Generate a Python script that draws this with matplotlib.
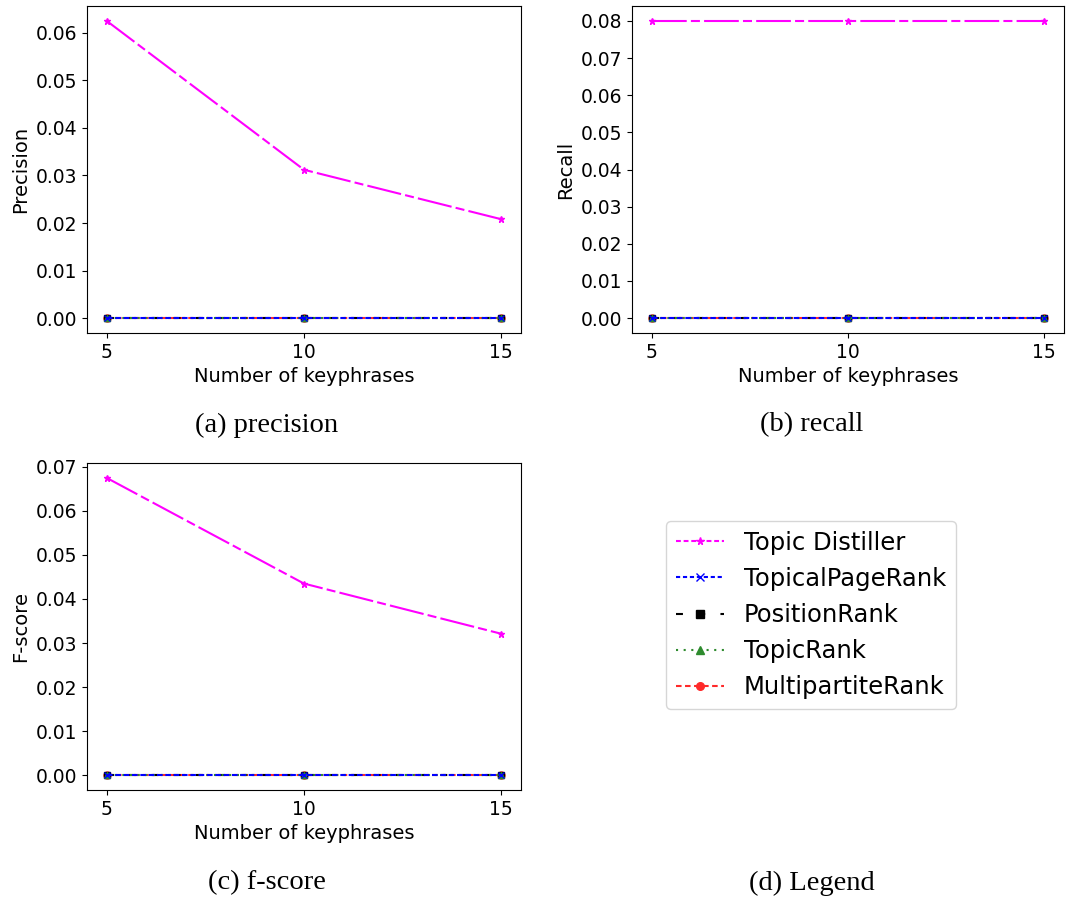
import matplotlib
matplotlib.use("Agg")
import matplotlib.pyplot as plt
from matplotlib.lines import Line2D
from matplotlib.ticker import MultipleLocator

plt.rcParams['lines.scale_dashes'] = False

keyphrases = [5, 10, 15]
methods = ['Topic Distiller', 'TopicalPageRank', 'PositionRank', 'TopicRank', 'MultipartiteRank']

precision = {
    'Topic Distiller': [0.0625, 0.0312, 0.0208],
    'TopicalPageRank': [0.0, 0.0, 0.0],
    'PositionRank': [0.0, 0.0, 0.0],
    'TopicRank': [0.0, 0.0, 0.0],
    'MultipartiteRank': [0.0, 0.0, 0.0],
}
recall = {
    'Topic Distiller': [0.08, 0.08, 0.08],
    'TopicalPageRank': [0.0, 0.0, 0.0],
    'PositionRank': [0.0, 0.0, 0.0],
    'TopicRank': [0.0, 0.0, 0.0],
    'MultipartiteRank': [0.0, 0.0, 0.0],
}
fscore = {
    'Topic Distiller': [0.0675, 0.0435, 0.0321],
    'TopicalPageRank': [0.0, 0.0, 0.0],
    'PositionRank': [0.0, 0.0, 0.0],
    'TopicRank': [0.0, 0.0, 0.0],
    'MultipartiteRank': [0.0, 0.0, 0.0],
}

# colour, marker, dashes in plot, dashes in legend, zorder
styles = {
    'Topic Distiller': ('#ff00ff', '*', (25, 3, 6.5, 3), (3.5, 2), 2),
    'TopicalPageRank': ('#0000ff', 'x', (4, 2), (3, 2), 6),
    'PositionRank': ('black', 's', (5, 11), (5, 11), 4),
    'TopicRank': ('#2e8b2e', '^', (1.5, 4), (1.5, 4), 5),
    'MultipartiteRank': ('#ff2a2a', 'o', (4, 2.5), (4, 2.5), 3),
}

fig = plt.figure(figsize=(10.67, 9.01), dpi=100)

panels = [
    (precision, 'Precision', [0.0815, 0.6304, 0.4068, 0.3629]),
    (recall, 'Recall', [0.5923, 0.6304, 0.4049, 0.3629]),
    (fscore, 'F-score', [0.0815, 0.1232, 0.4068, 0.3629]),
]

for data, ylabel, rect in panels:
    ax = fig.add_axes(rect)
    for m in methods:
        c, mk, ds, _, z = styles[m]
        ax.plot(keyphrases, data[m], color=c, marker=mk, markersize=5,
                dashes=ds, linewidth=1.5, zorder=z)
    ax.set_xticks(keyphrases)
    ax.yaxis.set_major_locator(MultipleLocator(0.01))
    ax.tick_params(labelsize=13.5)
    ax.set_xlabel('Number of keyphrases', fontsize=14)
    ax.set_ylabel(ylabel, fontsize=14)

handles = []
for m in methods:
    c, mk, _, lds, _ = styles[m]
    handles.append(Line2D([], [], color=c, marker=mk, markersize=5.5,
                          dashes=lds, linewidth=1.5))
fig.legend(handles, methods, loc='center', bbox_to_anchor=(0.760, 0.3174),
           fontsize=17.5)

captions = ['(a) precision', '(b) recall', '(c) f-score', '(d) Legend']
cap_pos = [(0.2502, 0.5283), (0.761, 0.5283), (0.2502, 0.02), (0.761, 0.02)]
for txt, (x, y) in zip(captions, cap_pos):
    fig.text(x, y, txt, ha='center', va='center', fontsize=20.5,
             family='Liberation Serif')

fig.savefig('out.png', dpi=100)
